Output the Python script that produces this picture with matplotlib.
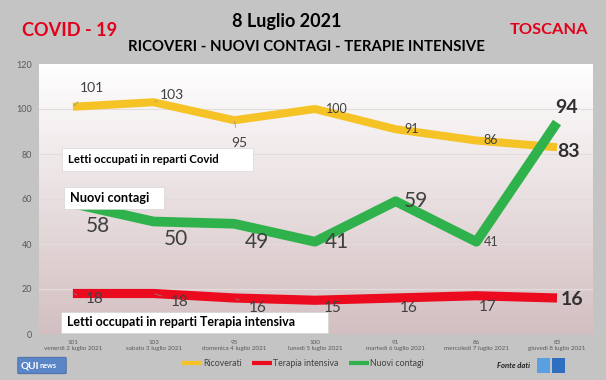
import matplotlib
matplotlib.use("Agg")
import matplotlib.pyplot as plt
import numpy as np
from matplotlib.patches import FancyBboxPatch, Rectangle

# ---- data ----
days = ["venerdì 2 luglio 2021", "sabato 3 luglio 2021", "domenica 4 luglio 2021",
        "lunedì 5 luglio 2021", "martedì 6 luglio 2021", "mercoledì 7 luglio 2021",
        "giovedì 8 luglio 2021"]
ricoverati = [101, 103, 95, 100, 91, 86, 83]
terapia = [18, 18, 16, 15, 16, 17, 16]
contagi = [58, 50, 49, 41, 59, 41, 94]
yticks = [0, 20, 40, 60, 80, 100, 120]

FONT = ["Lato", "DejaVu Sans"]
plt.rcParams['font.family'] = FONT

W, H = 606, 380
fig = plt.figure(figsize=(W / 100, H / 100), dpi=100)
fig.patch.set_facecolor("#c4c4c4")

def fx(px):
    return px / W

def fy(py):
    return 1 - py / H

# axes: left 39, right 593, top 64, bottom 334 (pixels)
ax = fig.add_axes([fx(39), fy(334), (593 - 39) / W, (334 - 64) / H])
ax.set_facecolor("white")
x = np.arange(len(days))

# gradient background
grad = np.linspace(0, 1, 256).reshape(-1, 1)
top = np.array([1.0, 1.0, 1.0])
bot = np.array([0xd3, 0xbf, 0xc1]) / 255
img = top[None, None, :] * (1 - grad[:, :, None]) + bot[None, None, :] * grad[:, :, None]
ax.imshow(img, extent=[0, 1, 0, 1], transform=ax.transAxes, aspect="auto", zorder=0)

ax.set_xlim(-0.42, 6.446)
ax.set_ylim(0, 120)
ax.set_yticks(yticks)
ax.set_yticklabels([str(v) for v in yticks], fontsize=6.5, color="#595959")
ax.tick_params(axis="y", length=0, pad=5)
for v in yticks[1:-1]:
    ax.axhline(v, color="#e3dcdc", lw=0.8, zorder=1)
for s in ax.spines.values():
    s.set_visible(False)

ax.set_xticks(x)
ax.set_xticklabels([f"{r}\n{d}" for r, d in zip(ricoverati, days)], fontsize=4.5,
                   color="#595959", linespacing=1.4)
ax.tick_params(axis="x", length=0, pad=4)

YEL = "#f5c326"
RED = "#ec0a1e"
GRN = "#2fb24c"
l1, = ax.plot(x, ricoverati, color=YEL, lw=5.8, solid_joinstyle="round", solid_capstyle="butt", zorder=3, label="Ricoverati")
l2, = ax.plot(x, terapia, color=RED, lw=6.6, solid_joinstyle="round", solid_capstyle="butt", zorder=3, label="Terapia intensiva")
l3, = ax.plot(x, contagi, color=GRN, lw=7.0, solid_joinstyle="round", solid_capstyle="butt", zorder=4, label="Nuovi contagi")

LBL = "#404040"

def lab(xi, yi, txt, dx, dy, size, bold=False, leader=False):
    kw = dict(textcoords="offset points", ha="center", va="center", fontsize=size,
              color=LBL if not bold else "#303030", fontweight="bold" if bold else "normal", zorder=6)
    if leader:
        kw["arrowprops"] = dict(arrowstyle="-", color="#8c8c8c", lw=0.5, shrinkA=5, shrinkB=1)
    ax.annotate(txt, xy=(xi, yi), xytext=(dx, dy), **kw)

# label offsets in points (dx, dy, size, leader)
yel_off = [(13.7, 13.5, 10, True), (13, 5, 10, True), (3.5, -16.5, 10, True), (16, 0, 9, False),
           (11.5, 0, 9, False), (10.5, 0, 9, False), (8.6, -3, 14, False)]
for i, (dx, dy, s, ld) in enumerate(yel_off):
    lab(x[i], ricoverati[i], str(ricoverati[i]), dx, dy, s, bold=(i == 6), leader=ld)

grn_off = [(18, -16, 15, True), (16, -12.5, 15, False), (16.5, -13.5, 15, True), (16, -0.5, 15, False),
           (14.5, 0, 15, False), (11, 0, 9, False), (7, 10.5, 14, False)]
for i, (dx, dy, s, ld) in enumerate(grn_off):
    lab(x[i], contagi[i], str(contagi[i]), dx, dy, s, bold=(i == 6), leader=ld)

red_off = [(16, -4, 11, True), (19, -6, 11, True), (16.5, -7.5, 11, True), (13, -5.5, 11, True),
           (9.5, -7, 11, False), (8.5, -8, 11, False), (11, -1, 14, False)]
for i, (dx, dy, s, ld) in enumerate(red_off):
    lab(x[i], terapia[i], str(terapia[i]), dx, dy, s, bold=(i == 6), leader=ld)

# white text boxes (figure pixel coords)
def tbox(x0, y0, x1, y1, txt, size):
    fig.patches.append(Rectangle((fx(x0), fy(y1)), fx(x1 - x0), (y1 - y0) / H,
                                 transform=fig.transFigure, facecolor="white",
                                 edgecolor="#d0d0d0", lw=0.4, zorder=5))
    fig.text(fx(x0 + 6), fy((y0 + y1) / 2), txt, fontsize=size, fontweight="bold",
             color="black", ha="left", va="center", zorder=6)

tbox(62, 148, 253, 171, "Letti occupati in reparti Covid", 8.2)
tbox(64, 187, 164, 209, "Nuovi contagi", 9.2)
tbox(61, 312, 328, 333, "Letti occupati in reparti Terapia intensiva", 9.0)

# titles
fig.text(fx(22), fy(30), "COVID - 19", color="#e2001a", fontsize=13.1, fontweight="bold", ha="left", va="center")
fig.text(fx(287), fy(22), "8 Luglio 2021", color="black", fontsize=13.0, fontweight="bold", ha="center", va="center")
fig.text(fx(306), fy(47), "RICOVERI - NUOVI CONTAGI - TERAPIE INTENSIVE", color="black",
         fontsize=10.7, fontweight="bold", ha="center", va="center")
fig.text(fx(588), fy(30), "TOSCANA", color="#e2001a", fontsize=11.8, fontweight="bold", ha="right", va="center")

# legend
fig.legend(handles=[l1, l2, l3], loc="center", bbox_to_anchor=(fx(303), fy(364)), ncol=3,
           frameon=False, fontsize=6.3, handlelength=2.3, handletextpad=0.1, columnspacing=1.2,
           labelcolor="#404040")
for h in fig.legends[0].legend_handles:
    h.set_linewidth(3)

# logos
fig.patches.append(FancyBboxPatch((fx(19), fy(373)), fx(46), 15 / H, boxstyle="round,pad=0.002",
                                  transform=fig.transFigure, facecolor="#5a86c8", edgecolor="#3a5f9a", lw=0.5))
fig.text(fx(20.5), fy(365.5), "QUI", color="white", fontsize=7.2, fontweight="bold", ha="left", va="center")
fig.text(fx(40), fy(366), "news", color="white", fontsize=5.2, fontweight="bold", ha="left", va="center")
fig.text(fx(530), fy(366), "Fonte dati", color="#202020", fontsize=5.5, fontweight="bold",
         style="italic", ha="right", va="center")
fig.patches.append(Rectangle((fx(537), fy(373)), fx(13), 15 / H, transform=fig.transFigure,
                             facecolor="#5aa0e0", edgecolor="none"))
fig.patches.append(Rectangle((fx(552), fy(373)), fx(13), 15 / H, transform=fig.transFigure,
                             facecolor="#2f6fc0", edgecolor="none"))

fig.savefig("out.png", dpi=100, facecolor=fig.get_facecolor())
